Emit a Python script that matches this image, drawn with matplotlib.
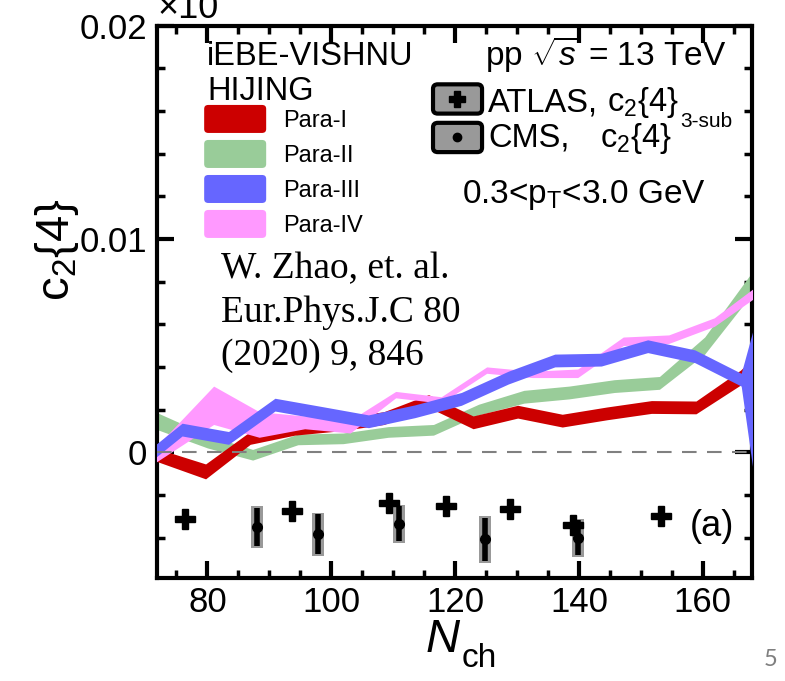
import matplotlib
matplotlib.use('Agg')
import matplotlib.pyplot as plt
from matplotlib.patches import FancyBboxPatch
from matplotlib.ticker import MultipleLocator
import numpy as np

plt.rcParams['font.family'] = 'Liberation Sans'
plt.rcParams['mathtext.fontset'] = 'custom'
plt.rcParams['mathtext.rm'] = 'Liberation Sans'
plt.rcParams['mathtext.it'] = 'Liberation Sans:italic'
plt.rcParams['mathtext.bf'] = 'Liberation Sans:bold'

# model bands: Nch, centre, half width
para1_n = [71.5, 79.7, 86.9, 94.1, 101.3, 108.5, 115.7, 122.9, 130.1, 137.3, 144.5, 151.7, 158.9, 166.1, 173.3]
para1_c = [-0.0001, -0.0009, 0.00067, 0.0011, 0.0013, 0.0016, 0.0024, 0.0014, 0.0019, 0.00148, 0.00182, 0.00212, 0.0021, 0.0035, 0.0055]
para1_h = [0.0003, 0.00035, 0.0003, 0.0003, 0.0003, 0.0003, 0.0003, 0.0003, 0.0003, 0.0003, 0.0003, 0.0003, 0.0003, 0.00035, 0.0004]

para2_n = [71.5, 80.0, 87.3, 94.6, 101.9, 109.2, 116.5, 123.8, 131.1, 138.4, 145.7, 153.0, 160.3, 167.6, 174.9]
para2_c = [0.0015, 0.0005, -0.00012, 0.0006, 0.00065, 0.00095, 0.00105, 0.002, 0.0026, 0.0028, 0.0031, 0.00325, 0.005, 0.0078, 0.0105]
para2_h = [0.0004, 0.0003, 0.00025, 0.00025, 0.00025, 0.00025, 0.00025, 0.00025, 0.0003, 0.0003, 0.0003, 0.0003, 0.0004, 0.0005, 0.0006]

para3_n = [68.4, 75.9, 83.4, 90.9, 98.5, 106.0, 113.5, 121.0, 128.6, 136.1, 143.6, 151.1, 158.7, 166.2, 169.5]
para3_c = [-0.0007, 0.00106, 0.00067, 0.00223, 0.00184, 0.00145, 0.00192, 0.0025, 0.0035, 0.0043, 0.00434, 0.00497, 0.0045, 0.0034, 0.00175]
para3_h = [0.0003, 0.0003, 0.0003, 0.0003, 0.0003, 0.0003, 0.0003, 0.0003, 0.0003, 0.0003, 0.0003, 0.0003, 0.0003, 0.0003, 0.00545]

para4_n = [71.5, 81.0, 88.35, 95.7, 103.05, 110.4, 117.75, 125.1, 132.45, 139.8, 147.15, 154.5, 161.85, 169.2]
para4_c = [-0.00015, 0.0022, 0.0013, 0.0014, 0.0012, 0.0027, 0.00245, 0.00385, 0.00365, 0.0037, 0.0052, 0.0053, 0.0061, 0.00765]
para4_h = [0.00035, 0.0009, 0.0006, 0.0003, 0.0003, 0.00015, 0.00015, 0.00015, 0.00015, 0.0002, 0.0002, 0.0002, 0.0002, 0.00025]

# data
atlas_n = [76.3, 93.6, 109.3, 118.6, 128.8, 139.0, 153.2]
atlas_c = [-0.00315, -0.00276, -0.00237, -0.00253, -0.00265, -0.00339, -0.0030]

cms_n = [88.0, 97.9, 110.9, 124.8, 139.9]
cms_c = [-0.00351, -0.00385, -0.00336, -0.00409, -0.00401]
cms_stat = [0.0009, 0.00094, 0.00082, 0.00102, 0.00082]
cms_sys = [0.00098, 0.00102, 0.0009, 0.0011, 0.0009]

labels = ['Para-I', 'Para-II', 'Para-III', 'Para-IV']
colors = ['#cc0000', '#99cc99', '#6666ff', '#ff99ff']

fig = plt.figure(figsize=(7.85, 6.81), dpi=100)
ax = fig.add_axes([0.1996, 0.1512, 0.758, 0.8111])

bands = [(para1_n, para1_c, para1_h), (para2_n, para2_c, para2_h),
         (para3_n, para3_c, para3_h), (para4_n, para4_c, para4_h)]
zords = [3, 2, 5, 4]
for (n, c, h), col, z in zip(bands, colors, zords):
    c = np.array(c)
    h = np.array(h)
    ax.fill_between(n, c - h, c + h, color=col, lw=0, zorder=z)

ax.axhline(0, color='#808080', lw=1.5, ls=(0, (7, 5)), zorder=6)

# CMS: systematic boxes + stat bars
cms_c_arr = np.array(cms_c)
cms_sys_arr = np.array(cms_sys)
ax.bar(cms_n, 2 * cms_sys_arr, bottom=cms_c_arr - cms_sys_arr, width=1.9,
       color='#999999', lw=0, zorder=7)
ax.errorbar(cms_n, cms_c, yerr=cms_stat, fmt='o', color='k', ms=7,
            elinewidth=4, capsize=0, zorder=8)
ax.plot(atlas_n, atlas_c, 'P', color='k', ms=14, ls='none', zorder=9)

ax.set_xlim(71.8, 167.9)
ax.set_ylim(-0.0059, 0.02)
ax.set_xticks([80, 100, 120, 140, 160])
ax.xaxis.set_minor_locator(MultipleLocator(5))
ax.set_yticks([0, 0.01, 0.02])
ax.set_yticklabels(['0', '0.01', '0.02'])
ax.yaxis.set_minor_locator(MultipleLocator(0.002))
ax.tick_params(which='both', direction='in', top=True, right=True, labelsize=25)
ax.tick_params(which='major', length=12, width=3)
ax.tick_params(which='minor', length=6, width=2.5)
ax.tick_params(axis='x', pad=6)
ax.tick_params(axis='y', pad=7)
for s in ax.spines.values():
    s.set_linewidth(3)

ax.text(-0.168, 0.594, 'c$_2${4}', transform=ax.transAxes, rotation=90,
        ha='center', va='center', fontsize=34)
fig.text(443 / 785, 1 - 652 / 681, 'N', ha='center', va='baseline', fontsize=34,
         style='italic')
fig.text(462 / 785, 1 - 667 / 681, 'ch', ha='left', va='baseline', fontsize=24)
fig.text(158 / 785, 1 - 18 / 681, '×10', ha='left', va='baseline', fontsize=26)
fig.text(771 / 785, 1 - 666 / 681, '5', ha='center', va='baseline', fontsize=17,
         color='#7f7f7f', family='Lato')

# model legend
T = ax.transAxes
ax.text(0.0845, 0.9289, 'iEBE-VISHNU', transform=T, fontsize=23.5, va='baseline')
ax.text(0.0845, 0.8655, 'HIJING', transform=T, fontsize=23.5, va='baseline')
patch_y = [0.8311, 0.7677, 0.7043, 0.6410]
text_y = [0.8171, 0.7527, 0.6893, 0.6259]
for lab, col, py, ty in zip(labels, colors, patch_y, text_y):
    ax.add_patch(FancyBboxPatch((0.0798, py - 0.0253), 0.1042, 0.0507,
                                boxstyle='round,pad=0,rounding_size=0.007',
                                transform=T, color=col, lw=0, clip_on=False))
    ax.text(0.2128, ty, lab, transform=T, fontsize=17, va='baseline')

# data legend
ax.text(0.5518, 0.9289, r'pp $\sqrt{s}$ = 13 TeV', transform=T, fontsize=24, va='baseline')
for cy in [0.8673, 0.7976]:
    ax.add_patch(FancyBboxPatch((0.4644, cy - 0.0265), 0.0824, 0.053,
                                boxstyle='round,pad=0,rounding_size=0.008',
                                transform=T, facecolor='#999999', edgecolor='k',
                                lw=3, clip_on=False, zorder=10))
ax.plot([0.5055], [0.8673], 'P', color='k', ms=11, transform=T, zorder=11)
ax.plot([0.5055], [0.7976], 'o', color='k', ms=6, transform=T, zorder=11)
ax.text(0.5568, 0.8453, 'ATLAS,', transform=T, fontsize=23.5, va='baseline')
ax.text(0.7566, 0.8453, 'c$_2${4}', transform=T, fontsize=23.5, va='baseline')
ax.text(0.8795, 0.8166, '3-sub', transform=T, fontsize=15, va='baseline')
ax.text(0.5568, 0.7809, 'CMS,', transform=T, fontsize=23.5, va='baseline')
ax.text(0.7449, 0.7809, 'c$_2${4}', transform=T, fontsize=23.5, va='baseline')
ax.text(0.5129, 0.6784, r'0.3<p$_{\rm T}$<3.0 GeV', transform=T, fontsize=24, va='baseline')

ax.text(0.1081, 0.5432, 'W. Zhao, et. al.', transform=T, fontsize=27,
        family='Liberation Serif', va='baseline')
ax.text(0.1081, 0.4641, 'Eur.Phys.J.C 80', transform=T, fontsize=27,
        family='Liberation Serif', va='baseline')
ax.text(0.1081, 0.3857, '(2020) 9, 846', transform=T, fontsize=27,
        family='Liberation Serif', va='baseline')
ax.text(0.8963, 0.0760, '(a)', transform=T, fontsize=26, va='baseline')

fig.savefig('out.png', dpi=100)
